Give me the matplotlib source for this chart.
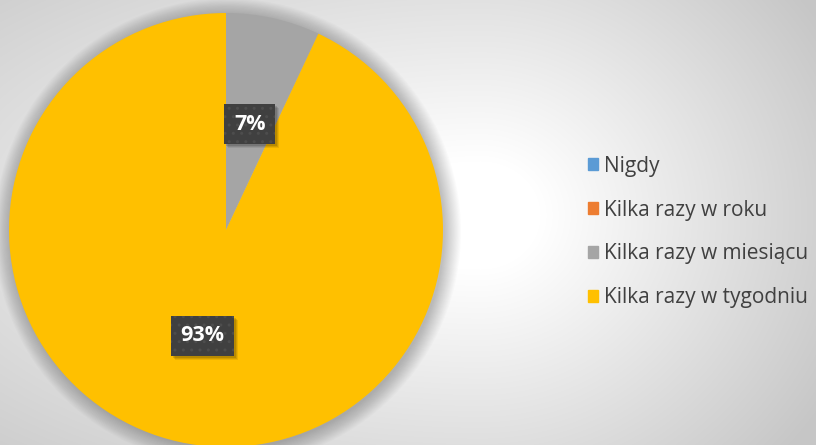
import numpy as np
import matplotlib.pyplot as plt
import matplotlib.patches as mpatches
import matplotlib.transforms as mtransforms

# data
labels = ['Nigdy', 'Kilka razy w roku', 'Kilka razy w miesiącu', 'Kilka razy w tygodniu']
values = [0, 0, 7, 93]
colors = ['#5B9BD5', '#ED7D31', '#A5A5A5', '#FFC000']

W, H = 816, 445
fig = plt.figure(figsize=(W / 100, H / 100), dpi=100)

# background radial gradient
bg = fig.add_axes([0, 0, 1, 1])
yy, xx = np.mgrid[0:H, 0:W]
cx, cy = 480.0, 215.0
sx = np.where(xx > cx, 400.0, 780.0)
t = np.sqrt(((xx - cx) / sx) ** 2 + ((yy - cy) / 360.0) ** 2)
t = np.clip((t - 0.15) / 0.85, 0, 1)
g = 1.0 - 0.22 * t
bg.imshow(np.dstack([g, g, g]), extent=[0, W, H, 0], aspect='auto', interpolation='bilinear')
bg.set_axis_off()

# pie axes (centre ~ (226,230), radius ~217 px)
r_px = 217
ax = fig.add_axes([(226 - r_px) / W, (H - 230 - r_px) / H, 2 * r_px / W, 2 * r_px / H])

# soft shadow around the pie
for k in range(16):
    ax.add_patch(mpatches.Circle((0.008, -0.008), 1 + k * 0.005, color='black',
                                 alpha=0.014, lw=0, zorder=0, clip_on=False))


def fmt(p):
    return '{:.0f}%'.format(p) if p > 0.5 else ''


wedges, texts, autotexts = ax.pie(values, colors=colors, startangle=90, counterclock=False,
                                  autopct=fmt, pctdistance=0.5,
                                  wedgeprops={'linewidth': 0})
ax.set_xlim(-1, 1)
ax.set_ylim(-1, 1)
ax.set_aspect('equal')
ax.set_axis_off()

shown = []
for at in autotexts:
    if at.get_text() == '':
        continue
    at.set_fontsize(15.5)
    at.set_fontweight('bold')
    at.set_family('Open Sans')
    at.set_color('white')
    at.set_zorder(6)
    at.set_bbox(dict(boxstyle='square,pad=0.45', fc='#404040', ec='#4d4d4d',
                     lw=0, hatch='..'))
    shown.append(at)

handles = [mpatches.Patch(color=c, label=l) for c, l in zip(colors, labels)]
leg = fig.legend(handles=handles, loc='center left', bbox_to_anchor=(569 / W, 1 - 232 / H),
                 frameon=False, handlelength=0.5, handleheight=0.5,
                 handletextpad=0.3, labelspacing=1.1, prop={'family': 'Open Sans', 'size': 15})
for txt in leg.get_texts():
    txt.set_color('#404040')

# drop shadows under the label boxes (above the pie, below the text)
fig.canvas.draw()
for at in shown:
    bb = at.get_bbox_patch().get_window_extent()
    for k, a in enumerate([0.12, 0.1, 0.08]):
        ax.add_patch(mpatches.Rectangle((bb.x0 + 2 + k, bb.y0 - 2 - k), bb.width, bb.height,
                                        transform=mtransforms.IdentityTransform(),
                                        fc='black', ec='none', alpha=a, zorder=5,
                                        clip_on=False))

fig.savefig('out.png', dpi=100)
